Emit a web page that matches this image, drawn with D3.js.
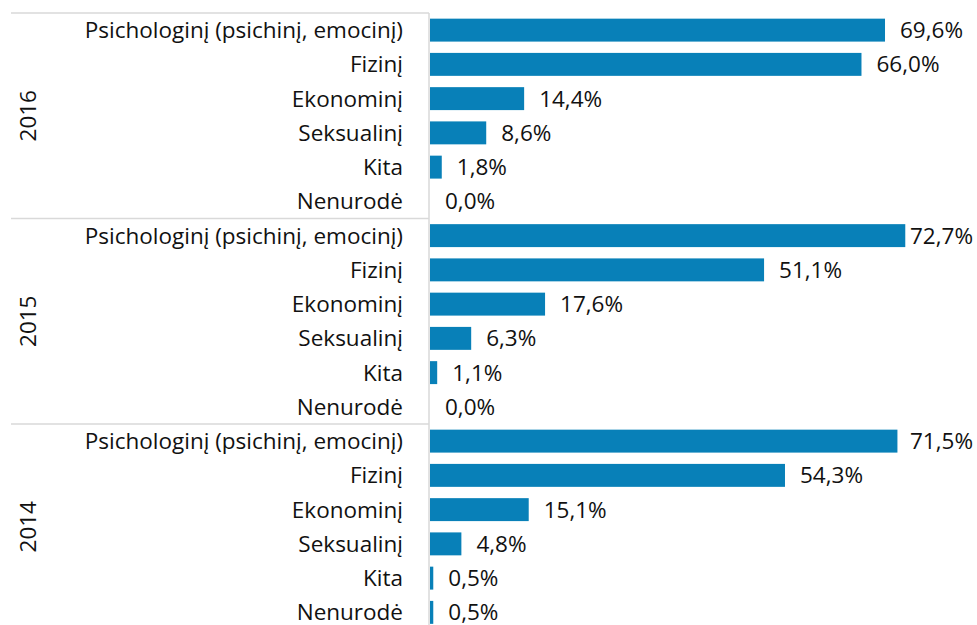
<!DOCTYPE html>
<html lang="lt">
<head>
    <meta charset="UTF-8">
    <title>Smurto rūšys</title>
    <script src="https://d3js.org/d3.v7.min.js"></script>
</head>
<style>
    * {
        margin: 0;
        padding: 0;
    }
    body {
        background: #fff;
    }
    text {
        font-family: "Open Sans", sans-serif;
        font-weight: 400;
        fill: #111;
    }
</style>
<body>
<script>
    // chart values
    var years = ["2016", "2015", "2014"]
    var categories = ["Psichologinį (psichinį, emocinį)", "Fizinį", "Ekonominį", "Seksualinį", "Kita", "Nenurodė"]
    var values2016 = [69.6, 66.0, 14.4, 8.6, 1.8, 0.0]
    var values2015 = [72.7, 51.1, 17.6, 6.3, 1.1, 0.0]
    var values2014 = [71.5, 54.3, 15.1, 4.8, 0.5, 0.5]
    var valuesByYear = {"2016": values2016, "2015": values2015, "2014": values2014}

    var width = 977, height = 625
    var axisX = 429, plotTop = 13, groupH = 205.5
    var rightEdge = 973
    var fontSize = "22.5px"

    var svg = d3.select("body").append("svg")
        .attr("width", width)
        .attr("height", height)
        .style("display", "block")

    var yYear = d3.scaleBand()
        .domain(years)
        .range([plotTop, plotTop + groupH * years.length])

    var yCat = d3.scaleBand()
        .domain(categories)
        .range([0, groupH])
        .paddingInner(0.33)
        .paddingOuter(0.165)

    var x = d3.scaleLinear()
        .domain([0, 80])
        .range([axisX + 1, axisX + 1 + 523])

    var fmt = function(v) { return d3.format(".1f")(v).replace(".", ",") + "%" }

    var groups = svg.selectAll("g.year")
        .data(years)
        .enter()
        .append("g")
        .attr("class", "year")
        .attr("transform", function(d) { return "translate(0," + yYear(d) + ")" })

    // separator lines
    groups.append("line")
        .attr("x1", 11).attr("x2", axisX)
        .attr("y1", 0).attr("y2", 0)
        .style("stroke", "#d9d9d9")
        .style("stroke-width", 1.5)

    groups.append("text")
        .attr("transform", "translate(28," + (groupH / 2) + ") rotate(-90)")
        .attr("text-anchor", "middle")
        .attr("dy", "0.35em")
        .style("font-size", fontSize)
        .text(function(d) { return d })

    groups.each(function(yr) {
        var g = d3.select(this)
        var rows = categories.map(function(c, i) { return {cat: c, value: valuesByYear[yr][i]} })

        g.selectAll("text.cat")
            .data(rows)
            .enter()
            .append("text")
            .attr("class", "cat")
            .attr("x", 403)
            .attr("y", function(d) { return yCat(d.cat) + yCat.bandwidth() / 2 })
            .attr("dy", "0.35em")
            .attr("text-anchor", "end")
            .style("font-size", fontSize)
            .text(function(d) { return d.cat })

        g.selectAll("rect")
            .data(rows)
            .enter()
            .append("rect")
            .attr("x", x(0))
            .attr("y", function(d) { return yCat(d.cat) })
            .attr("width", function(d) { return x(d.value) - x(0) })
            .attr("height", yCat.bandwidth())
            .style("fill", "#0880b8")

        g.selectAll("text.val")
            .data(rows)
            .enter()
            .append("text")
            .attr("class", "val")
            .attr("y", function(d) { return yCat(d.cat) + yCat.bandwidth() / 2 })
            .attr("dy", "0.35em")
            .style("font-size", fontSize)
            .text(function(d) { return fmt(d.value) })
            .attr("x", function(d) {
                var w = this.getComputedTextLength()
                return Math.min(x(d.value) + 15, rightEdge - w)
            })
    })

    // vertical axis line
    svg.append("line")
        .attr("x1", axisX).attr("x2", axisX)
        .attr("y1", plotTop).attr("y2", height)
        .style("stroke", "#d9d9d9")
        .style("stroke-width", 1.5)
</script>
</body>
</html>
